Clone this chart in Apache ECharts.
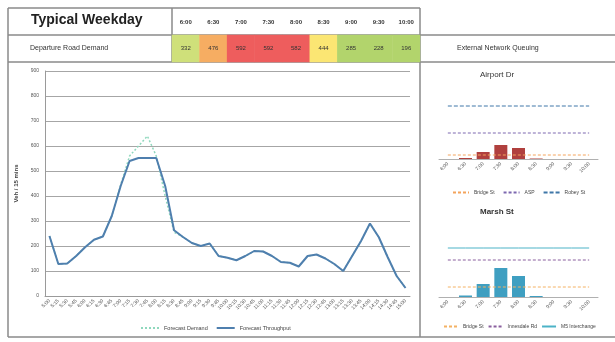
<!DOCTYPE html>
<html>
<head>
<meta charset="utf-8">
<script src="https://cdn.jsdelivr.net/npm/echarts@6/dist/echarts.min.js"></script>
<style>
  html, body { margin: 0; padding: 0; background: #ffffff; }
  #chart { width: 615px; height: 342px; }
</style>
</head>
<body>
<div id="chart"></div>
<script>
// Half-hour periods shown in the demand header strip
const periods = ['6:00', '6:30', '7:00', '7:30', '8:00', '8:30', '9:00', '9:30', '10:00'];
// Departure Road demand per period
const roadDemand = [332, 476, 592, 592, 582, 444, 285, 228, 196];

// 15-minute intervals across the day
const times = [
  '5:00', '5:15', '5:30', '5:45', '6:00', '6:15', '6:30', '6:45',
  '7:00', '7:15', '7:30', '7:45', '8:00', '8:15', '8:30', '8:45',
  '9:00', '9:15', '9:30', '9:45', '10:00', '10:15', '10:30', '10:45',
  '11:00', '11:15', '11:30', '11:45', '12:00', '12:15', '12:30', '12:45',
  '13:00', '13:15', '13:30', '13:45', '14:00', '14:15', '14:30', '14:45', '15:00'
];
const forecastDemand = [
  240, 128, 130, 160, 195, 225, 238, 320, 445, 560, 600, 640, 560, 400, 255, 236,
  212, 200, 210, 160, 153, 143, 160, 180, 178, 160, 136, 133, 118, 160, 166, 150,
  128, 100, 160, 220, 290, 235, 155, 80, 32
];
const forecastThroughput = [
  240, 128, 130, 160, 195, 225, 238, 320, 440, 540, 552, 552, 552, 440, 263, 236,
  212, 200, 210, 160, 153, 143, 160, 180, 178, 160, 136, 133, 118, 160, 166, 150,
  128, 100, 160, 220, 290, 235, 155, 80, 32
];

// External network queue lengths (m) per period
const airportQueue = [0, 10, 70, 140, 110, 5, 0, 0, 0];
const airportBridgeSt = [40, 40, 40, 40, 40, 40, 40, 40, 40];
const airportASP = [260, 260, 260, 260, 260, 260, 260, 260, 260];
const airportRobeySt = [530, 530, 530, 530, 530, 530, 530, 530, 530];

const marshQueue = [0, 15, 130, 290, 210, 10, 0, 0, 0];
const marshBridgeSt = [100, 100, 100, 100, 100, 100, 100, 100, 100];
const marshInnesdale = [370, 370, 370, 370, 370, 370, 370, 370, 370];
const marshM5 = [490, 490, 490, 490, 490, 490, 490, 490, 490];

const FONT = 'Arial, "Liberation Sans", sans-serif';
const BORDER = '#8a8a8a';

const chart = echarts.init(document.getElementById('chart'), null, { renderer: 'canvas' });

function frameLine(x1, y1, x2, y2) {
  return { type: 'line', shape: { x1, y1, x2, y2 }, style: { stroke: BORDER, lineWidth: 1.5 }, silent: true };
}

const smallAxisLabel = { fontSize: 5, color: '#555', rotate: 45, interval: 0, margin: 4, fontFamily: FONT };

function refLine(name, data, xi, color, type, width) {
  return {
    name, type: 'line', xAxisIndex: xi, yAxisIndex: xi, data,
    showSymbol: false, symbol: 'none', silent: true,
    lineStyle: { color, width: width || 1, type }, itemStyle: { color }
  };
}

// legend entries show only the line stroke, no marker
const hiddenMarker = { opacity: 0 };

const option = {
  animation: false,
  backgroundColor: '#ffffff',
  textStyle: { fontFamily: FONT },
  grid: [
    { left: 172, top: 35, width: 248, height: 27 },
    { left: 45, top: 71, width: 365, height: 225 },
    { left: 439, top: 95, width: 159, height: 64 },
    { left: 439, top: 233, width: 159, height: 64 }
  ],
  xAxis: [
    {
      gridIndex: 0, type: 'category', data: periods, position: 'top',
      axisLine: { show: false }, axisTick: { show: false },
      axisLabel: { fontSize: 6, color: '#333', fontWeight: 'bold', margin: 10, interval: 0 }
    },
    {
      gridIndex: 1, type: 'category', data: times, boundaryGap: true,
      axisLine: { lineStyle: { color: '#9a9a9a' } }, axisTick: { show: false },
      axisLabel: { fontSize: 5, color: '#555', rotate: 45, interval: 0, margin: 4 }
    },
    {
      gridIndex: 2, type: 'category', data: periods,
      axisLine: { lineStyle: { color: '#b0b0b0' } }, axisTick: { show: false },
      axisLabel: smallAxisLabel
    },
    {
      gridIndex: 3, type: 'category', data: periods,
      axisLine: { lineStyle: { color: '#b0b0b0' } }, axisTick: { show: false },
      axisLabel: smallAxisLabel
    }
  ],
  yAxis: [
    { gridIndex: 0, type: 'category', data: ['Departure Road Demand'], show: false },
    {
      gridIndex: 1, type: 'value', min: 0, max: 900, interval: 100,
      name: 'Veh / 15 mins', nameLocation: 'middle', nameGap: 13,
      nameTextStyle: { fontSize: 6, color: '#444', fontWeight: 'bold' },
      axisLine: { show: true, lineStyle: { color: '#9a9a9a' } }, axisTick: { show: false },
      axisLabel: { fontSize: 5, color: '#555', margin: 6 },
      splitLine: { lineStyle: { color: '#a6a6a6', width: 1 } }
    },
    { gridIndex: 2, type: 'value', min: 0, max: 640, show: false, splitLine: { show: false } },
    { gridIndex: 3, type: 'value', min: 0, max: 640, show: false, splitLine: { show: false } }
  ],
  visualMap: {
    type: 'piecewise', show: false, seriesIndex: 0, dimension: 2,
    pieces: [
      { lt: 300, color: '#b2d46c' },
      { gte: 300, lt: 400, color: '#cfe07a' },
      { gte: 400, lt: 450, color: '#fbe673' },
      { gte: 450, lt: 550, color: '#f6ad62' },
      { gte: 550, color: '#ee5d5d' }
    ]
  },
  legend: [
    {
      data: ['Forecast Demand', 'Forecast Throughput'],
      left: 135, top: 320, itemWidth: 18, itemHeight: 6, itemGap: 8,
      itemStyle: hiddenMarker,
      textStyle: { fontSize: 5.5, color: '#444' }, selectedMode: false
    },
    {
      data: ['Bridge St', 'ASP', 'Robey St'],
      left: 447, top: 185, itemWidth: 16, itemHeight: 5, itemGap: 8,
      itemStyle: hiddenMarker,
      textStyle: { fontSize: 5, color: '#444' }, selectedMode: false
    },
    {
      data: ['Bridge St (Marsh)', 'Innesdale Rd', 'M5 Interchange'],
      left: 443, top: 324, width: 172, itemWidth: 14, itemHeight: 5, itemGap: 4,
      itemStyle: hiddenMarker, padding: 0,
      textStyle: { fontSize: 5, color: '#444' }, selectedMode: false,
      formatter: (n) => n.replace(' (Marsh)', '')
    }
  ],
  series: [
    {
      name: 'Departure Road Demand', type: 'heatmap', xAxisIndex: 0, yAxisIndex: 0,
      data: roadDemand.map((v, i) => [i, 0, v]),
      label: { show: true, fontSize: 6, color: '#333', formatter: (p) => p.value[2] },
      silent: true
    },
    {
      name: 'Forecast Demand', type: 'line', xAxisIndex: 1, yAxisIndex: 1,
      data: forecastDemand, showSymbol: false, symbol: 'none',
      lineStyle: { color: '#8fd8bd', width: 1.5, type: [2, 2] }, itemStyle: { color: '#8fd8bd' }, z: 2
    },
    {
      name: 'Forecast Throughput', type: 'line', xAxisIndex: 1, yAxisIndex: 1,
      data: forecastThroughput, showSymbol: false, symbol: 'none',
      lineStyle: { color: '#4f7fae', width: 2 }, itemStyle: { color: '#4f7fae' }, z: 3
    },
    {
      name: 'Airport Dr queue', type: 'bar', xAxisIndex: 2, yAxisIndex: 2,
      data: airportQueue, barWidth: 13, itemStyle: { color: '#b0403e' }, silent: true
    },
    refLine('Bridge St', airportBridgeSt, 2, '#f4a45c', [3, 2]),
    refLine('ASP', airportASP, 2, '#7d68b0', [3, 2]),
    refLine('Robey St', airportRobeySt, 2, '#3f77a8', [4, 2]),
    {
      name: 'Marsh St queue', type: 'bar', xAxisIndex: 3, yAxisIndex: 3,
      data: marshQueue, barWidth: 13, itemStyle: { color: '#3f9fc1' }, silent: true
    },
    refLine('Bridge St (Marsh)', marshBridgeSt, 3, '#f4b264', [3, 2]),
    refLine('Innesdale Rd', marshInnesdale, 3, '#8a5f9e', [3, 2]),
    refLine('M5 Interchange', marshM5, 3, '#4cb3c7', 'solid')
  ],
  graphic: [
    frameLine(8, 8, 420, 8),
    frameLine(8, 35, 615, 35),
    frameLine(8, 62, 615, 62),
    frameLine(8, 337, 615, 337),
    frameLine(8, 8, 8, 337),
    frameLine(172, 8, 172, 62),
    frameLine(420, 8, 420, 337),
    {
      type: 'text', left: 91 - 60, top: 13,
      style: { text: 'Typical Weekday', width: 120, align: 'center', fontSize: 14, fontWeight: 'bold', fill: '#222', fontFamily: FONT }
    },
    {
      type: 'text', left: 90 - 60, top: 45,
      style: { text: 'Departure Road Demand', width: 120, align: 'center', fontSize: 7, fill: '#333', fontFamily: FONT }
    },
    {
      type: 'text', left: 517 - 60, top: 45,
      style: { text: 'External Network Queuing', width: 120, align: 'center', fontSize: 7, fill: '#333', fontFamily: FONT }
    },
    {
      type: 'text', left: 520 - 40, top: 71,
      style: { text: 'Airport Dr', width: 80, align: 'center', fontSize: 8, fill: '#333', fontFamily: FONT }
    },
    {
      type: 'text', left: 520 - 40, top: 208,
      style: { text: 'Marsh St', width: 80, align: 'center', fontSize: 8, fontWeight: 'bold', fill: '#333', fontFamily: FONT }
    }
  ]
};

chart.setOption(option);
</script>
</body>
</html>
